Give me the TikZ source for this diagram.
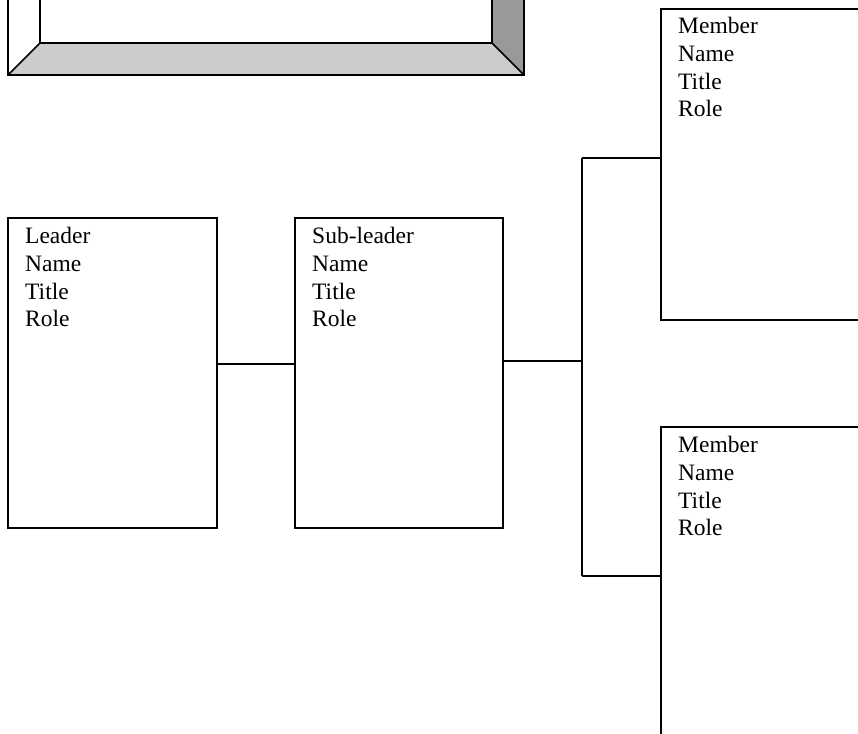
\documentclass[tikz,border=0pt]{standalone}
\usepackage{fontspec}
\setmainfont{Liberation Serif}
\begin{document}
\begin{tikzpicture}[x=1pt,y=-1pt,
  box/.style={draw=black, line width=1.6pt, fill=white},
  conn/.style={draw=black, line width=1.6pt},
  txt/.style={anchor=north west, inner sep=0pt, align=left,
    font=\fontsize{23.5}{27.8}\selectfont}]
\useasboundingbox (0,0) rectangle (858,733);
\clip (0,0) rectangle (858,733);
% bevelled frame (top part cut off)
\fill[white] (8,-300) -- (40,-268) -- (40,43) -- (8,75) -- cycle;
\fill[black!40] (524,-300) -- (492,-268) -- (492,43) -- (524,75) -- cycle;
\fill[black!20] (8,75) -- (40,43) -- (492,43) -- (524,75) -- cycle;
\draw[conn] (8,-300) rectangle (524,75);
\draw[conn] (40,-268) rectangle (492,43);
\draw[conn] (8,75) -- (40,43) (524,75) -- (492,43);
% boxes
\path[box] (8,218) rectangle (217,528);
\path[box] (295,218) rectangle (503,528);
\path[box] (661,9) rectangle (900,320);
\path[box] (661,427) rectangle (900,900);
\node[txt] (tL) at (25,227) {Leader\\Name\\Title\\Role};
\node[txt] (tS) at (312,227) {Sub-leader\\Name\\Title\\Role};
\node[txt] (tM1) at (678,17) {Member\\Name\\Title\\Role};
\node[txt] (tM2) at (678,436) {Member\\Name\\Title\\Role};
% connector points
\coordinate (a1) at (217,364);
\coordinate (a2) at (295,364);
\coordinate (b1) at (503,361);
\coordinate (fork) at (582,361);
\coordinate (ftop) at (582,158);
\coordinate (fbot) at (582,576);
\coordinate (m1) at (661,158);
\coordinate (m2) at (661,576);
\draw[conn] (a1) -- (a2);
\draw[conn] (b1) -- (fork);
\draw[conn] (ftop) -- (fbot);
\draw[conn] (ftop) -- (m1);
\draw[conn] (fbot) -- (m2);
\end{tikzpicture}
\end{document}
